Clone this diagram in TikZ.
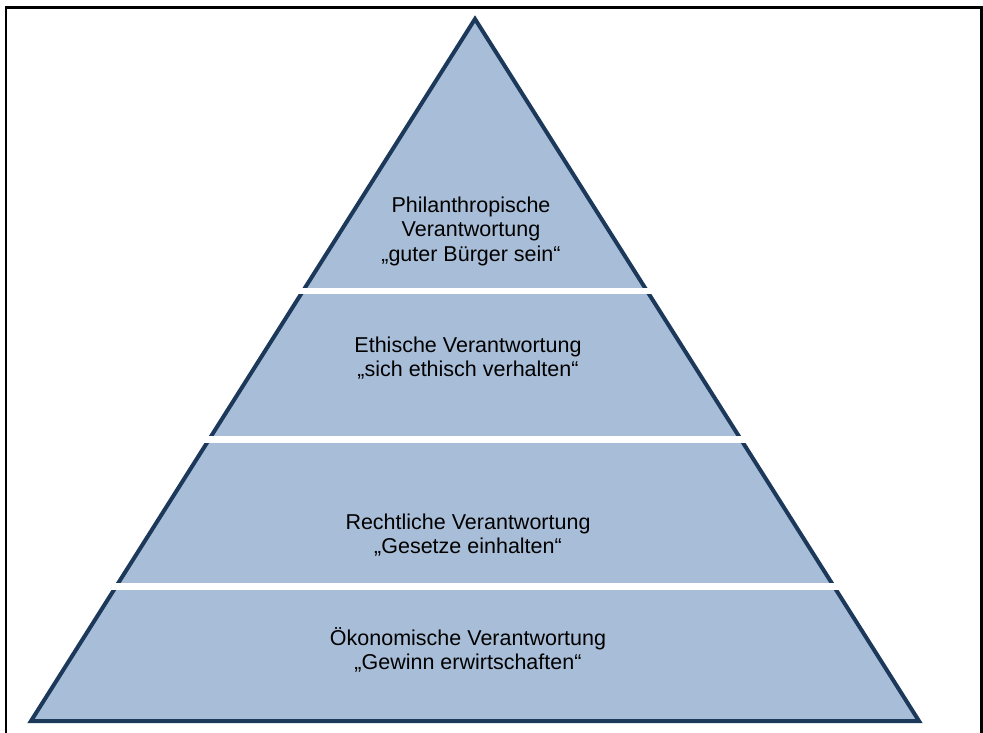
\documentclass[tikz,border=0pt]{standalone}
\usepackage{fontspec}
\setmainfont{Liberation Sans}
\definecolor{pyrfill}{RGB}{168,189,215}
\definecolor{pyrline}{RGB}{28,56,90}
\begin{document}
\begin{tikzpicture}[x=1pt,y=-1pt,
  lbl/.style={align=center,font=\fontsize{21.5}{24.5}\selectfont,text=black,inner sep=0pt},
  gapbar/.style={fill=white,draw=none}]
\useasboundingbox (0,0) rectangle (983,733);
% frame (bottom cropped)
\draw[line width=2.2pt,black] (6,733) -- (6,7.5) -- (981.5,7.5) -- (981.5,733);
% pyramid
\coordinate (apex) at (475,19);
\coordinate (bl) at (31,721);
\coordinate (br) at (919,721);
\filldraw[fill=pyrfill,draw=pyrline,line width=4pt,line join=miter] (apex) -- (br) -- (bl) -- cycle;
% white separating bars
\fill[gapbar] (20,287.5) rectangle (940,294);
\fill[gapbar] (20,436) rectangle (940,442.5);
\fill[gapbar] (20,583) rectangle (940,589.5);
% labels
\node[lbl] (l1) at (471,231) {Philanthropische\\Verantwortung\\„guter Bürger sein“};
\node[lbl] (l2) at (468,358) {Ethische Verantwortung\\„sich ethisch verhalten“};
\node[lbl] (l3) at (468,535) {Rechtliche Verantwortung\\„Gesetze einhalten“};
\node[lbl] (l4) at (468,650) {Ökonomische Verantwortung\\„Gewinn erwirtschaften“};
\end{tikzpicture}
\end{document}
